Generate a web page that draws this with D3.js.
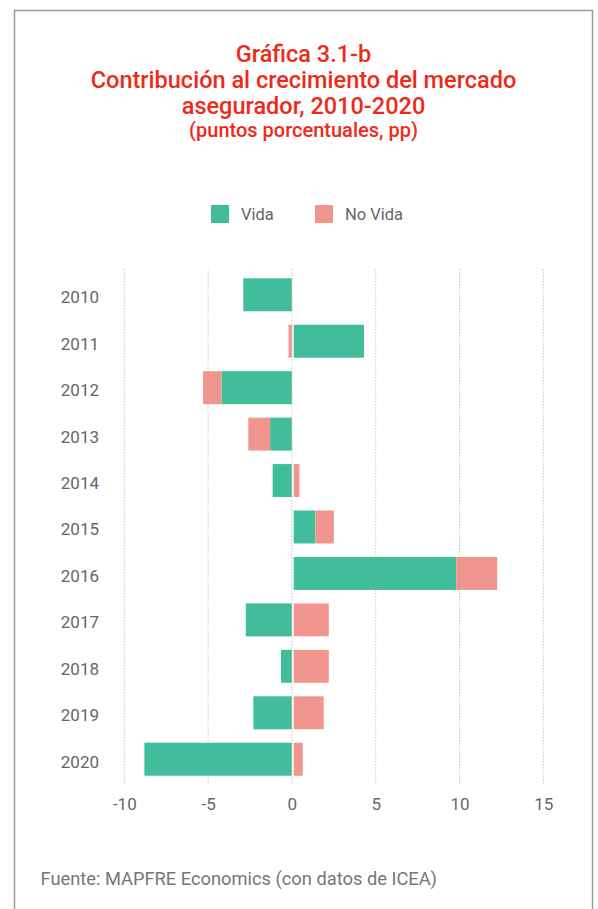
<!DOCTYPE html>
<html lang="es">
<head>
<meta charset="UTF-8">
<title>Gráfica 3.1-b</title>
<script src="https://d3js.org/d3.v7.min.js"></script>
<style>
  body { margin: 0; background: #fff; }
  text { font-family: Roboto, "Open Sans", sans-serif; }
</style>
</head>
<body>
<svg width="598" height="909"></svg>
<script>
const years = ["2010", "2011", "2012", "2013", "2014", "2015", "2016", "2017", "2018", "2019", "2020"];
const vida = [-2.9, 4.3, -4.2, -1.3, -1.15, 1.4, 9.8, -2.75, -0.65, -2.3, -8.8];
const noVida = [0, -0.2, -1.1, -1.3, 0.45, 1.1, 2.45, 2.2, 2.2, 1.9, 0.65];
const seriesNames = ["Vida", "No Vida"];
const xTicks = [-10, -5, 0, 5, 10, 15];
const titleLines = ["Gráfica 3.1-b", "Contribución al crecimiento del mercado", "asegurador, 2010-2020"];
const subtitle = "(puntos porcentuales, pp)";
const source = "Fuente: MAPFRE Economics (con datos de ICEA)";

const colors = {"Vida": "#42bd9c", "No Vida": "#f1968f"};

const svg = d3.select("svg");

// marco
svg.append("path")
    .attr("d", "M14.5,920V10.5H592.5V920")
    .attr("fill", "none")
    .attr("stroke", "#9a9a9a")
    .attr("stroke-width", 1.5);

// título
const title = svg.append("g").attr("fill", "#ee2a18").attr("text-anchor", "middle")
    .style("font-weight", 500);
titleLines.forEach((t, i) => {
    title.append("text")
        .attr("x", 303.5).attr("y", 62 + i * 26)
        .style("font-size", "23.5px")
        .text(t);
});
title.append("text")
    .attr("x", 303.5).attr("y", 137)
    .style("font-size", "20px")
    .text(subtitle);

// leyenda
const legendX = [211, 315];
const legend = svg.append("g");
seriesNames.forEach((s, i) => {
    legend.append("rect")
        .attr("x", legendX[i]).attr("y", 205)
        .attr("width", 18).attr("height", 18)
        .attr("fill", colors[s]);
    legend.append("text")
        .attr("x", legendX[i] + 30).attr("y", 214.5)
        .attr("dy", "0.35em")
        .attr("fill", "#666")
        .style("font-size", "16.5px")
        .text(s);
});

// escalas
const x = d3.scaleLinear().domain([-10, 15]).range([124.3, 543.3]);
const y = d3.scaleBand().domain(years).range([269, 785]).paddingInner(0.29).paddingOuter(0.2);

const rows = years.map((yr, i) => ({year: yr, "Vida": vida[i], "No Vida": noVida[i]}));
const stacked = d3.stack().keys(seriesNames).offset(d3.stackOffsetDiverging)(rows);

svg.append("g")
    .selectAll("g")
    .data(stacked)
    .join("g")
    .attr("fill", d => colors[d.key])
    .selectAll("rect")
    .data(d => d)
    .join("rect")
    .attr("x", d => x(Math.min(d[0], d[1])))
    .attr("y", d => y(d.data.year))
    .attr("width", d => Math.abs(x(d[1]) - x(d[0])))
    .attr("height", y.bandwidth());

// separación blanca en cero
svg.append("line")
    .attr("x1", x(0) + 0.9).attr("x2", x(0) + 0.9)
    .attr("y1", 269).attr("y2", 785)
    .attr("stroke", "#fff").attr("stroke-width", 1.8);

// rejilla
svg.append("g")
    .selectAll("line")
    .data(xTicks)
    .join("line")
    .attr("x1", d => x(d)).attr("x2", d => x(d))
    .attr("y1", 269).attr("y2", 785)
    .attr("stroke", "#999")
    .attr("stroke-opacity", 0.55)
    .attr("stroke-dasharray", "1.5,1.5");

// ejes
const xAxis = svg.append("g")
    .attr("transform", "translate(0,785)")
    .call(d3.axisBottom(x).tickValues(xTicks).tickSize(0).tickPadding(13).tickFormat(d => String(d)));
xAxis.select(".domain").remove();
xAxis.selectAll("text").attr("fill", "#666").style("font-size", "17px").attr("font-family", null);

const yAxis = svg.append("g")
    .attr("transform", "translate(99,3)")
    .call(d3.axisLeft(y).tickSize(0).tickPadding(0));
yAxis.select(".domain").remove();
yAxis.selectAll("text").attr("fill", "#666").style("font-size", "17px").attr("font-family", null);

// fuente
svg.append("text")
    .attr("x", 40.5).attr("y", 885)
    .attr("fill", "#777")
    .style("font-size", "18.3px")
    .text(source);
</script>
</body>
</html>
